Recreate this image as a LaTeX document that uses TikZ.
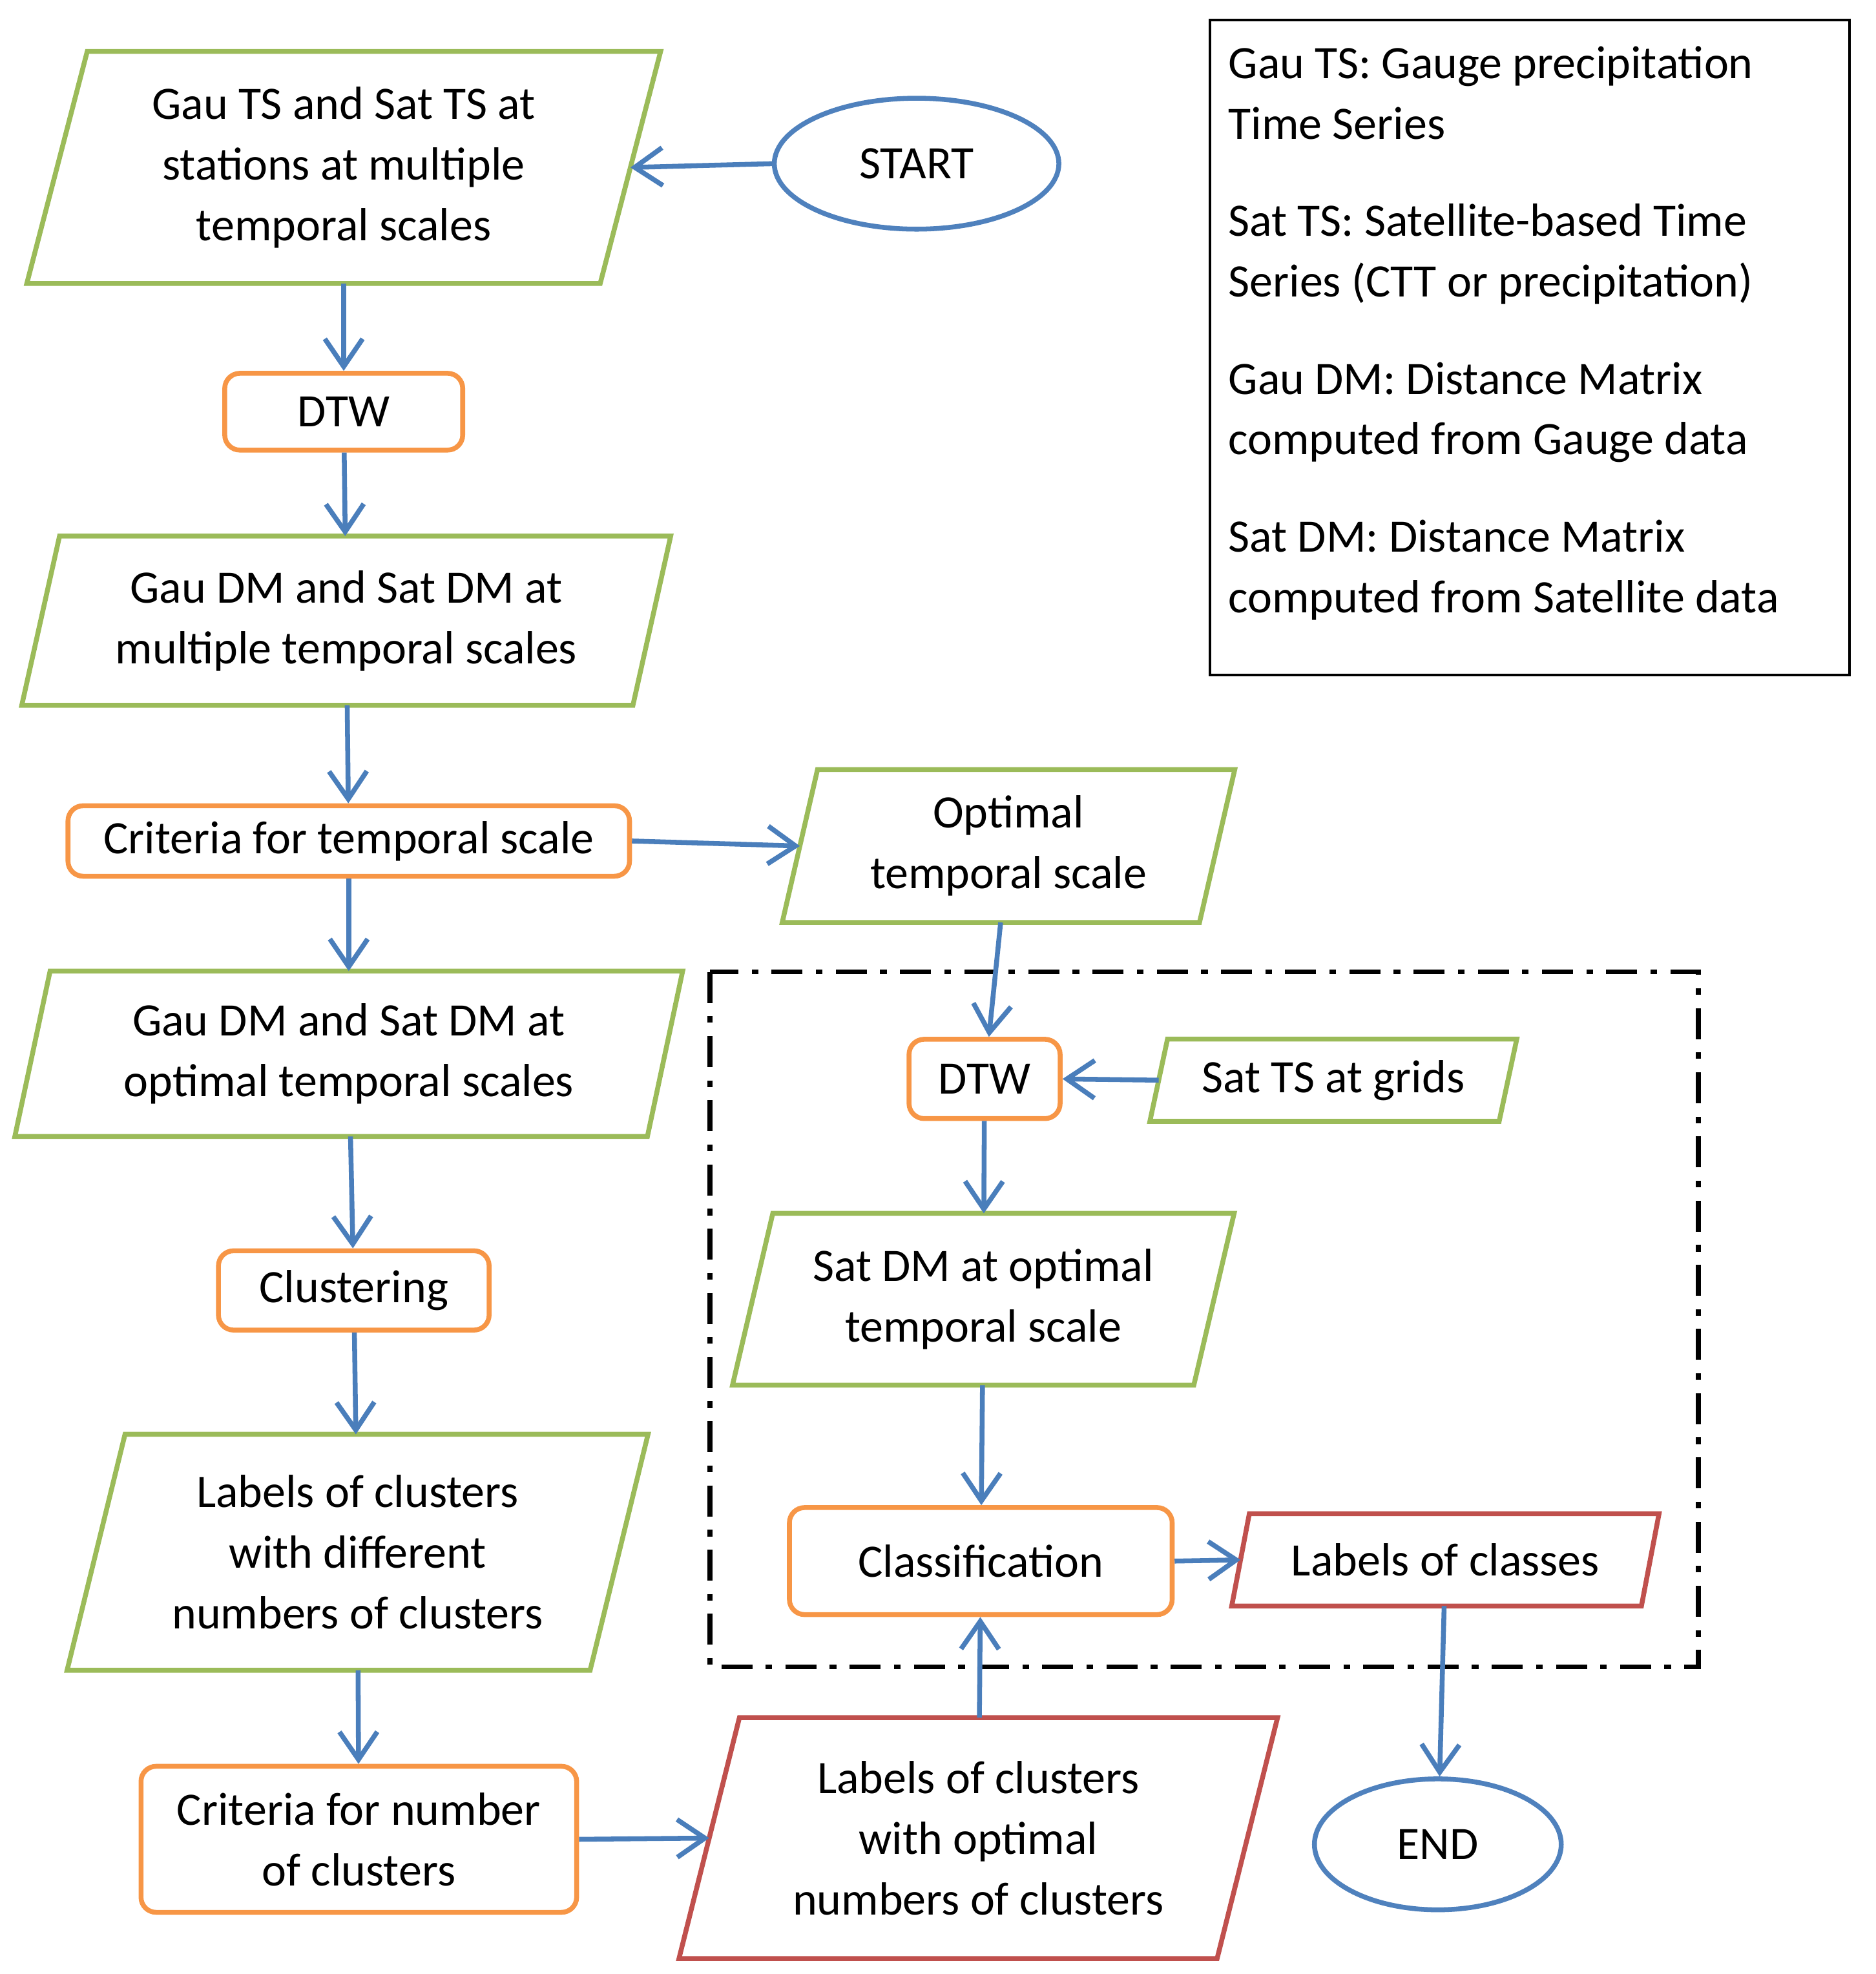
\documentclass[tikz,border=0pt]{standalone}
\usepackage{fontspec}
\setmainfont{Carlito}
\usetikzlibrary{calc,arrows.meta,shapes.geometric}
\definecolor{cg}{HTML}{9BBB59}
\definecolor{co}{HTML}{F79646}
\definecolor{cb}{HTML}{4F81BD}
\definecolor{cr}{HTML}{C0504D}
\definecolor{ca}{HTML}{4A7EBB}
\newcommand\para[8]{%
  \node[inner sep=0pt, minimum width=#4*0.01cm, minimum height=#5*0.01cm, align=center] (#1) at (#2,#3) {#8};
  \draw[line width=1.1pt,#7] ($(#1.north west)+(#6,0)$) -- ($(#1.north east)+(#6,0)$) -- ($(#1.south east)-(#6,0)$) -- ($(#1.south west)-(#6,0)$) -- cycle;}
\begin{document}
\begin{tikzpicture}[x=0.01cm,y=-0.01cm,
  every node/.style={font=\fontsize{10.5}{13.7}\selectfont},
  proc/.style={draw=co, line width=1.1pt, rounded corners=0.12cm, align=center, inner sep=0pt},
  term/.style={draw=cb, line width=1.1pt, ellipse, inner sep=0pt},
  arr/.style={draw=ca, line width=1.1pt, -{Straight Barb[length=0.22cm,width=0.3cm,line width=1.1pt]}}]
\useasboundingbox (0,0) rectangle (1490,1568);
% legend
\draw[line width=0.6pt] (961,16) rectangle (1469,536);
\node[anchor=north west, align=left, inner sep=0pt] (leg) at (975,36) {Gau TS: Gauge precipitation\\Time Series\\[2.9mm]Sat TS: Satellite-based Time\\Series (CTT or precipitation)\\[2.9mm]Gau DM: Distance Matrix\\computed from Gauge data\\[2.9mm]Sat DM: Distance Matrix\\computed from Satellite data};
% dashed box
\draw[line width=1.1pt, dash pattern=on 7pt off 3pt on 1.5pt off 3pt] (564,772) rectangle (1349,1324);
% terminals
\node[term, minimum width=226*0.01cm, minimum height=104*0.01cm] (start) at (728,130) {START};
\node[term, minimum width=196*0.01cm, minimum height=104*0.01cm] (end) at (1142,1465) {END};
% parallelograms
\para{p1}{273}{133}{454}{183}{24}{cg}{Gau TS and Sat TS at\\stations at multiple\\temporal scales}
\para{p2}{275}{493}{484}{133}{15}{cg}{Gau DM and Sat DM at\\multiple temporal scales}
\para{p3}{801}{672}{330}{120}{14}{cg}{Optimal\\temporal scale}
\para{p4}{277}{837}{501}{130}{14}{cg}{Gau DM and Sat DM at\\optimal temporal scales}
\para{p5}{781}{1032}{365}{135}{16}{cg}{Sat DM at optimal\\temporal scale}
\para{p6}{284}{1233}{414}{186}{23}{cg}{Labels of clusters\\with different\\numbers of clusters}
\para{p7}{1059}{858}{276}{64}{7}{cg}{Sat TS at grids}
\para{p8}{1148}{1239}{324}{72}{7}{cr}{Labels of classes}
\para{p9}{777}{1460}{426}{190}{24}{cr}{Labels of clusters\\with optimal\\numbers of clusters}
% processes
\node[proc, minimum width=189*0.01cm, minimum height=61*0.01cm] (dtw1) at (273,327) {DTW};
\node[proc, minimum width=446*0.01cm, minimum height=56*0.01cm] (crit) at (277,668) {Criteria for temporal scale};
\node[proc, minimum width=215*0.01cm, minimum height=63*0.01cm] (clus) at (281,1025) {Clustering};
\node[proc, minimum width=346*0.01cm, minimum height=116*0.01cm] (critn) at (285,1461) {Criteria for number\\of clusters};
\node[proc, minimum width=120*0.01cm, minimum height=63*0.01cm] (dtw2) at (782,857) {DTW};
\node[proc, minimum width=304*0.01cm, minimum height=85*0.01cm] (cls) at (779,1240) {Classification};
% arrows
\draw[arr] (start.west) -- (p1.east);
\draw[arr] (p1) -- (dtw1);
\draw[arr] (dtw1) -- (p2);
\draw[arr] (p2) -- (crit);
\draw[arr] (crit.east) -- (p3.west);
\draw[arr] (crit) -- (p4);
\draw[arr] (p4) -- (clus);
\draw[arr] (clus) -- (p6);
\draw[arr] (p6) -- (critn);
\draw[arr] (critn.east) -- (p9.west);
\draw[arr] (p9) -- (cls);
\draw[arr] (p3) -- (dtw2);
\draw[arr] (p7.west) -- (dtw2.east);
\draw[arr] (dtw2) -- (p5);
\draw[arr] (p5) -- (cls);
\draw[arr] (cls.east) -- (p8.west);
\draw[arr] (p8) -- (end);
\end{tikzpicture}
\end{document}
